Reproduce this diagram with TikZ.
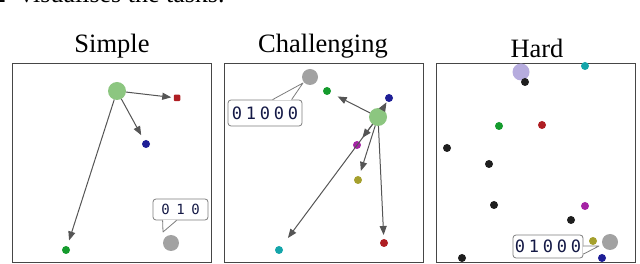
\documentclass[tikz,border=0pt]{standalone}
\usepackage{fontspec}
\setmainfont{Liberation Serif}
\newfontfamily\bitsfont{DejaVu Sans Mono}
\usetikzlibrary{arrows.meta,calc}
\definecolor{bigg}{RGB}{140,198,128}
\definecolor{dred}{RGB}{175,30,35}
\definecolor{dblue}{RGB}{30,30,150}
\definecolor{grn}{RGB}{20,155,45}
\definecolor{gry}{RGB}{162,162,162}
\definecolor{mag}{RGB}{165,35,165}
\definecolor{olv}{RGB}{165,160,45}
\definecolor{cyn}{RGB}{20,165,170}
\definecolor{lav}{RGB}{182,172,222}
\definecolor{blk}{RGB}{30,30,30}
\definecolor{arr}{RGB}{85,85,85}
\definecolor{frm}{RGB}{70,70,70}
\definecolor{bub}{RGB}{125,125,125}
\definecolor{bits}{RGB}{20,25,70}
\begin{document}
\begin{tikzpicture}[x=1pt,y=-1pt,
  title/.style={anchor=base,font=\fontsize{26.5}{30}\selectfont},
  panel/.style={draw=frm,line width=0.9pt,minimum width=199pt,minimum height=199pt,inner sep=0pt},
  dot/.style={circle,inner sep=0pt,outer sep=0pt,minimum size=8pt,draw=none,fill=#1},
  sqdot/.style={rectangle,rounded corners=1pt,inner sep=0pt,outer sep=0pt,minimum size=6.5pt,draw=none,fill=#1},
  big/.style={circle,inner sep=0pt,outer sep=0pt,minimum size=18pt,draw=none,fill=#1},
  mid/.style={circle,inner sep=0pt,outer sep=0pt,minimum size=16pt,draw=none,fill=#1},
  link/.style={draw=arr,line width=1pt,-{Triangle[length=9pt,width=7pt]},shorten >=#1},
  link/.default=2pt,
  bubble/.style={draw=bub,line width=0.8pt,rounded corners=3pt,fill=white,inner sep=0pt,text=bits},
  tail/.style={draw=bub,line width=0.8pt,line join=round}
]
\useasboundingbox (0,0) rectangle (640,264);

% cut-off line of running text above the figure
\node[anchor=base west,inner sep=0pt,font=\fontsize{26}{30}\selectfont] (runtext) at (-7,3)
  {2\hspace{14pt}visualises the tasks.};

% titles
\node[title] (tS) at (112,53) {Simple};
\node[title] (tC) at (323,53) {Challenging};
\node[title] (tH) at (537,57.5) {Hard};

% frames
\node[panel] (p1) at (111.5,162.5) {};
\node[panel] (p2) at (324,162.5) {};
\node[panel] (p3) at (535.5,162.5) {};

% ---------------- Simple ----------------
\node[big=bigg] (s0) at (117,91) {};
\node[sqdot=dred] (sr) at (177,98) {};
\node[dot=dblue] (sb) at (146,144) {};
\node[dot=grn] (sg) at (66,250) {};
\node[mid=gry] (sx) at (171,243) {};
\draw[link=2.5pt] (s0) -- (sr);
\draw[link=6pt] (s0) -- (sb);
\draw[link=6pt] (s0) -- (sg);
\node[bubble,minimum width=55pt,minimum height=21pt,font=\bitsfont\fontsize{14}{16}\selectfont] (b1) at (180.5,209.5)
  {0\hspace{6.6pt}1\hspace{6.6pt}0};
\coordinate (k1) at (163,232);
\fill[white] ($(b1.south west)+(10.4,-0.6)$) -- ($(k1)+(0.4,-1.5)$) -- ($(b1.south west)+(23.4,-0.6)$) -- cycle;
\draw[tail] ($(b1.south west)+(10,0)$) -- (k1) -- ($(b1.south west)+(24,0)$);

% ---------------- Challenging ----------------
\node[big=bigg] (c0) at (378,117) {};
\node[mid=gry] (cx) at (310,77) {};
\node[dot=grn] (cg) at (327,91) {};
\node[dot=dblue] (cb) at (389,98) {};
\node[dot=mag] (cm) at (357,145) {};
\node[dot=olv] (co) at (358,180) {};
\node[dot=dred] (cr) at (384,243) {};
\node[dot=cyn] (cc) at (279,250) {};
\draw[link=8pt] (c0) -- (cg);
\draw[link=1pt] (c0) -- (cb);
\draw[link=5pt] (c0) -- (cm);
\draw[link=5.5pt] (c0) -- (co);
\draw[link=4pt] (c0) -- (cr);
\draw[link=11pt] (c0) -- (cc);
\node[bubble,minimum width=74pt,minimum height=26pt,font=\bitsfont\fontsize{17}{19}\selectfont] (b2) at (265,113)
  {0\hspace{3.8pt}1\hspace{3.8pt}0\hspace{3.8pt}0\hspace{3.8pt}0};
\coordinate (k2) at (303,83);
\fill[white] ($(b2.north west)+(45.5,0.6)$) -- ($(k2)+(-0.5,1.5)$) -- ($(b2.north west)+(63.5,0.6)$) -- cycle;
\draw[tail] ($(b2.north west)+(45,0)$) -- (k2) -- ($(b2.north west)+(64,0)$);

% ---------------- Hard ----------------
\node[mid=lav,minimum size=17pt] (h0) at (521,72) {};
\node[dot=blk] (hk1) at (525,82) {};
\node[dot=cyn] (hc) at (585,66) {};
\node[dot=grn] (hg) at (499,126) {};
\node[dot=dred] (hr) at (542,125) {};
\node[dot=blk] (hk2) at (447,148) {};
\node[dot=blk] (hk3) at (489,164) {};
\node[dot=blk] (hk4) at (494,205) {};
\node[dot=mag] (hm) at (585,206) {};
\node[dot=blk] (hk5) at (571,220) {};
\node[dot=olv] (ho) at (593,241) {};
\node[mid=gry] (hx) at (610,242) {};
\node[dot=dblue] (hb) at (602,258) {};
\node[dot=blk] (hk6) at (462,258) {};
\node[bubble,minimum width=70pt,minimum height=23pt,font=\bitsfont\fontsize{17}{19}\selectfont] (b3) at (548,246.5)
  {0\hspace{3.8pt}1\hspace{3.8pt}0\hspace{3.8pt}0\hspace{3.8pt}0};
\coordinate (k3) at (599,246);
\fill[white] ($(b3.north east)+(-0.6,12)$) -- ($(k3)+(-1.5,0)$) -- ($(b3.north east)+(-0.6,19)$) -- cycle;
\draw[tail] ($(b3.north east)+(0,11.5)$) -- (k3) -- ($(b3.north east)+(0,19.5)$);
\end{tikzpicture}
\end{document}
